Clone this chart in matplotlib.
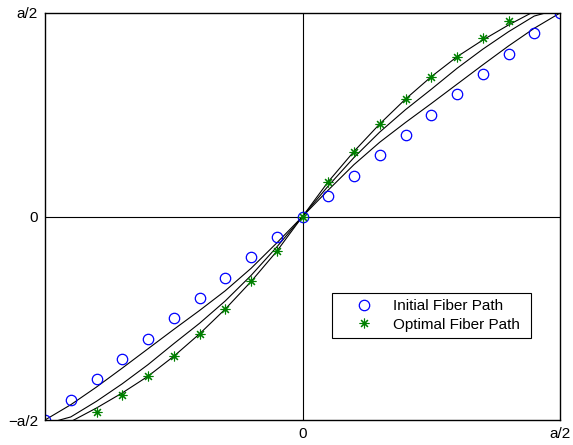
import matplotlib.pyplot as plt
import numpy as np

plt.rcParams['font.family'] = ['Liberation Sans', 'DejaVu Sans']

# positions along the plate, in units of a/2
x_pts = np.round(np.arange(-10, 11) / 10, 2)

# initial fiber path: straight line
y_initial = x_pts.copy()

# optimal fiber path (x = -0.8 .. 0.8)
x_opt = np.round(np.arange(-8, 9) / 10, 2)
y_opt_half = [0.171, 0.317, 0.455, 0.577, 0.686, 0.784, 0.877, 0.961]
y_opt = np.concatenate([-np.array(y_opt_half[::-1]), [0.0], y_opt_half])

# three black guide curves, values for x >= 0, mirrored for x < 0
curve_a_half = [0.0, 0.13, 0.255, 0.365, 0.462, 0.555, 0.650, 0.745, 0.838, 0.925, 1.0]
curve_b_half = [0.0, 0.150, 0.290, 0.415, 0.525, 0.625, 0.728, 0.822, 0.908, 0.985, 1.02]
curve_c_half = [0.0, 0.171, 0.320, 0.455, 0.577, 0.687, 0.785, 0.867, 0.941, 1.008, 1.05]


def mirror(half):
    half = np.array(half)
    return np.concatenate([-half[:0:-1], half])


fig = plt.figure(figsize=(5.73, 4.45), dpi=100)
ax = fig.add_axes([45 / 573, 25 / 445, 515 / 573, 407 / 445])

ax.axhline(0, color='black', lw=0.8)
ax.axvline(0, color='black', lw=0.8)

for half in (curve_a_half, curve_b_half, curve_c_half):
    ax.plot(x_pts, mirror(half), color='black', lw=0.8)

ax.plot(x_pts, y_initial, linestyle='none', marker='o', markersize=7.5,
        markerfacecolor='none', markeredgecolor='#0000ff', markeredgewidth=0.9,
        label='Initial Fiber Path')
ax.plot(x_opt, y_opt, linestyle='none', marker=(8, 2, 0), markersize=7,
        color='#008000', markeredgewidth=0.8, label='Optimal Fiber Path')

ax.set_xlim(-1, 1)
ax.set_ylim(-1, 1)
ax.set_xticks([-1, 0, 1])
ax.set_xticklabels(['', '0', 'a/2'])
ax.set_yticks([-1, 0, 1])
ax.set_yticklabels(['\u2212a/2', '0', 'a/2'])
ax.tick_params(length=0, labelsize=11, pad=5)
for s in ax.spines.values():
    s.set_linewidth(1.0)

leg = ax.legend(loc='upper left', bbox_to_anchor=(0.557, 0.312, 0.387, 0.0),
                mode='expand', fontsize=11, fancybox=False, framealpha=1,
                edgecolor='black', borderpad=0.4, labelspacing=0.3,
                handlelength=3.4, handletextpad=0.2, borderaxespad=0)
leg.get_frame().set_linewidth(0.8)

fig.savefig('out.png', dpi=100)
